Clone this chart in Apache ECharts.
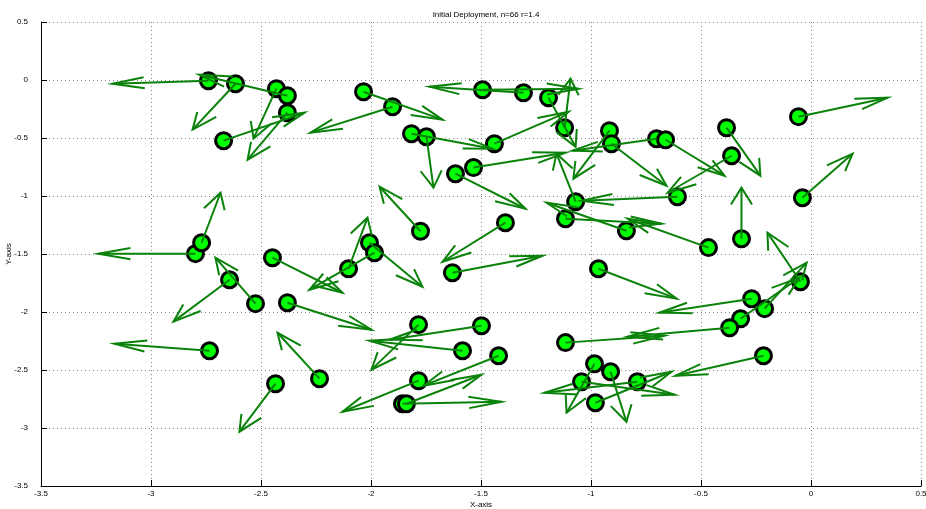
<!DOCTYPE html>
<html><head><meta charset="utf-8">
<script src="https://cdn.jsdelivr.net/npm/echarts@6/dist/echarts.min.js"></script>
<style>html,body{margin:0;padding:0;background:#fff}#c{width:926px;height:509px}</style>
</head><body><div id="c"></div>
<script>
const titleText = 'Initial Deployment, n=66 r=1.4';
const nodeX = [-2.739,-2.616,-2.430,-2.380,-2.380,-2.670,-2.034,-1.902,-1.816,-1.748,-1.534,-1.616,-1.775,-2.007,-1.984,-2.448,-1.493,-1.307,-1.193,-1.120,-1.439,-0.916,-0.907,-0.702,-0.661,-1.389,-1.070,-0.607,-1.116,-0.839,-0.466,-0.384,-0.361,-0.057,-0.039,-0.316,-0.048,-0.270,-0.211,-0.320,-0.370,-0.216,-0.966,-1.498,-1.420,-1.116,-0.984,-0.911,-1.043,-0.789,-0.980,-2.102,-1.630,-2.380,-2.525,-1.784,-1.584,-2.234,-2.434,-1.784,-1.857,-1.839,-2.798,-2.770,-2.643,-2.734];
const nodeY = [-0.006,-0.032,-0.075,-0.135,-0.282,-0.523,-0.101,-0.230,-0.463,-0.489,-0.755,-0.808,-1.304,-1.403,-1.489,-1.532,-0.084,-0.110,-0.153,-0.411,-0.549,-0.437,-0.549,-0.506,-0.515,-1.230,-1.049,-1.006,-1.196,-1.299,-1.445,-0.411,-0.653,-0.316,-1.015,-1.368,-1.739,-1.885,-1.971,-2.058,-2.135,-2.377,-1.627,-2.118,-2.377,-2.264,-2.446,-2.515,-2.601,-2.601,-2.782,-1.627,-1.661,-1.920,-1.928,-2.109,-2.334,-2.575,-2.618,-2.592,-2.791,-2.791,-1.497,-1.403,-1.722,-2.334];
const tipX = [-3.175,-2.811,-2.534,-2.780,-2.561,-2.302,-1.675,-2.275,-1.448,-1.716,-1.116,-1.298,-1.961,-1.766,-2.280,-2.130,-1.057,-1.734,-1.070,-1.093,-1.102,-1.080,-0.657,-1.084,-0.393,-1.675,-1.157,-1.043,-0.680,-1.202,-0.834,-0.230,-0.652,0.348,0.189,-0.316,-0.198,-0.689,-0.020,-0.052,-0.834,-0.616,-0.611,-1.916,-1.761,-0.666,-1.111,-0.839,-0.620,-1.211,-0.634,-2.016,-1.220,-1.998,-2.707,-1.998,-2.007,-2.425,-2.598,-2.130,-1.407,-1.498,-3.239,-2.684,-2.898,-3.166];
const tipY = [-0.032,-0.428,-0.506,0.046,-0.687,-0.282,-0.342,-0.454,-0.592,-0.928,-0.627,-1.110,-0.920,-1.782,-1.808,-1.834,-0.075,-0.058,-0.575,0.011,-0.273,-0.851,-0.911,-0.609,-0.825,-1.567,-0.635,-1.041,-1.239,-1.058,-1.196,-0.825,-0.972,-0.153,-0.635,-0.928,-1.316,-2.006,-1.575,-1.704,-2.213,-2.549,-1.885,-2.239,-2.635,-2.204,-2.868,-2.946,-2.713,-2.696,-2.515,-1.187,-1.515,-2.153,-1.532,-2.497,-2.248,-2.179,-3.032,-2.860,-2.774,-2.541,-1.497,-0.972,-2.083,-2.273];
const xMin = -3.5, xMax = 0.5, xStep = 0.5;
const yMin = -3.5, yMax = 0.5, yStep = 0.5;

const chart = echarts.init(document.getElementById('c'));
const arrowData = nodeX.map((x, i) => [x, nodeY[i], tipX[i], tipY[i]]);
const nodeData = nodeX.map((x, i) => [x, nodeY[i]]);
const font = 'Liberation Sans, Arial, sans-serif';
const axisCommon = {
  type: 'value',
  nameMoveOverlap: false,
  axisLine: { show: true, onZero: false, lineStyle: { color: '#000', width: 1 } },
  axisTick: { show: true, inside: true, length: 6, lineStyle: { color: '#000' } },
  splitLine: { show: true, lineStyle: { type: [1, 3], color: '#888', width: 1 } },
  axisLabel: { color: '#000', fontSize: 8, fontFamily: font },
  nameTextStyle: { color: '#000', fontSize: 8, fontFamily: font }
};
chart.setOption({
  animation: false,
  backgroundColor: '#fff',
  title: { text: titleText, left: 481, top: 6, textAlign: 'center',
    textStyle: { fontSize: 8, fontWeight: 'normal', color: '#000', fontFamily: font } },
  grid: { left: 41, right: 5, top: 22, bottom: 23, containLabel: false, outerBoundsMode: 'none' },
  xAxis: Object.assign({}, axisCommon, { min: xMin, max: xMax, interval: xStep,
    name: 'X-axis', nameLocation: 'middle', nameGap: 15,
    axisLabel: Object.assign({}, axisCommon.axisLabel, { margin: 4 }) }),
  yAxis: Object.assign({}, axisCommon, { min: yMin, max: yMax, interval: yStep,
    name: 'Y-axis', nameLocation: 'middle', nameGap: 28, nameRotate: 90,
    axisLabel: Object.assign({}, axisCommon.axisLabel, { margin: 13 }) }),
  series: [
    { type: 'scatter', data: nodeData, symbol: 'circle', symbolSize: 16, z: 2,
      itemStyle: { color: '#00ff00', borderColor: '#000', borderWidth: 3, opacity: 1 } },
    { type: 'custom', data: arrowData, z: 3,
      encode: { x: [0, 2], y: [1, 3] },
      renderItem: function (params, api) {
        const x = api.value(0), y = api.value(1), x2 = api.value(2), y2 = api.value(3);
        const u = x2 - x, v = y2 - y, a = 0.33, b = 0.33;
        const w1 = [x2 - a * (u + b * v), y2 - a * (v - b * u)];
        const w2 = [x2 - a * (u - b * v), y2 - a * (v + b * u)];
        const p0 = api.coord([x, y]), p1 = api.coord([x2, y2]);
        const q1 = api.coord(w1), q2 = api.coord(w2);
        const st = { stroke: '#0a820a', lineWidth: 2, fill: null };
        return { type: 'group', children: [
          { type: 'line', shape: { x1: p0[0], y1: p0[1], x2: p1[0], y2: p1[1] }, style: st },
          { type: 'polyline', shape: { points: [q1, p1, q2] }, style: st }
        ] };
      } }
  ]
});
</script></body></html>
